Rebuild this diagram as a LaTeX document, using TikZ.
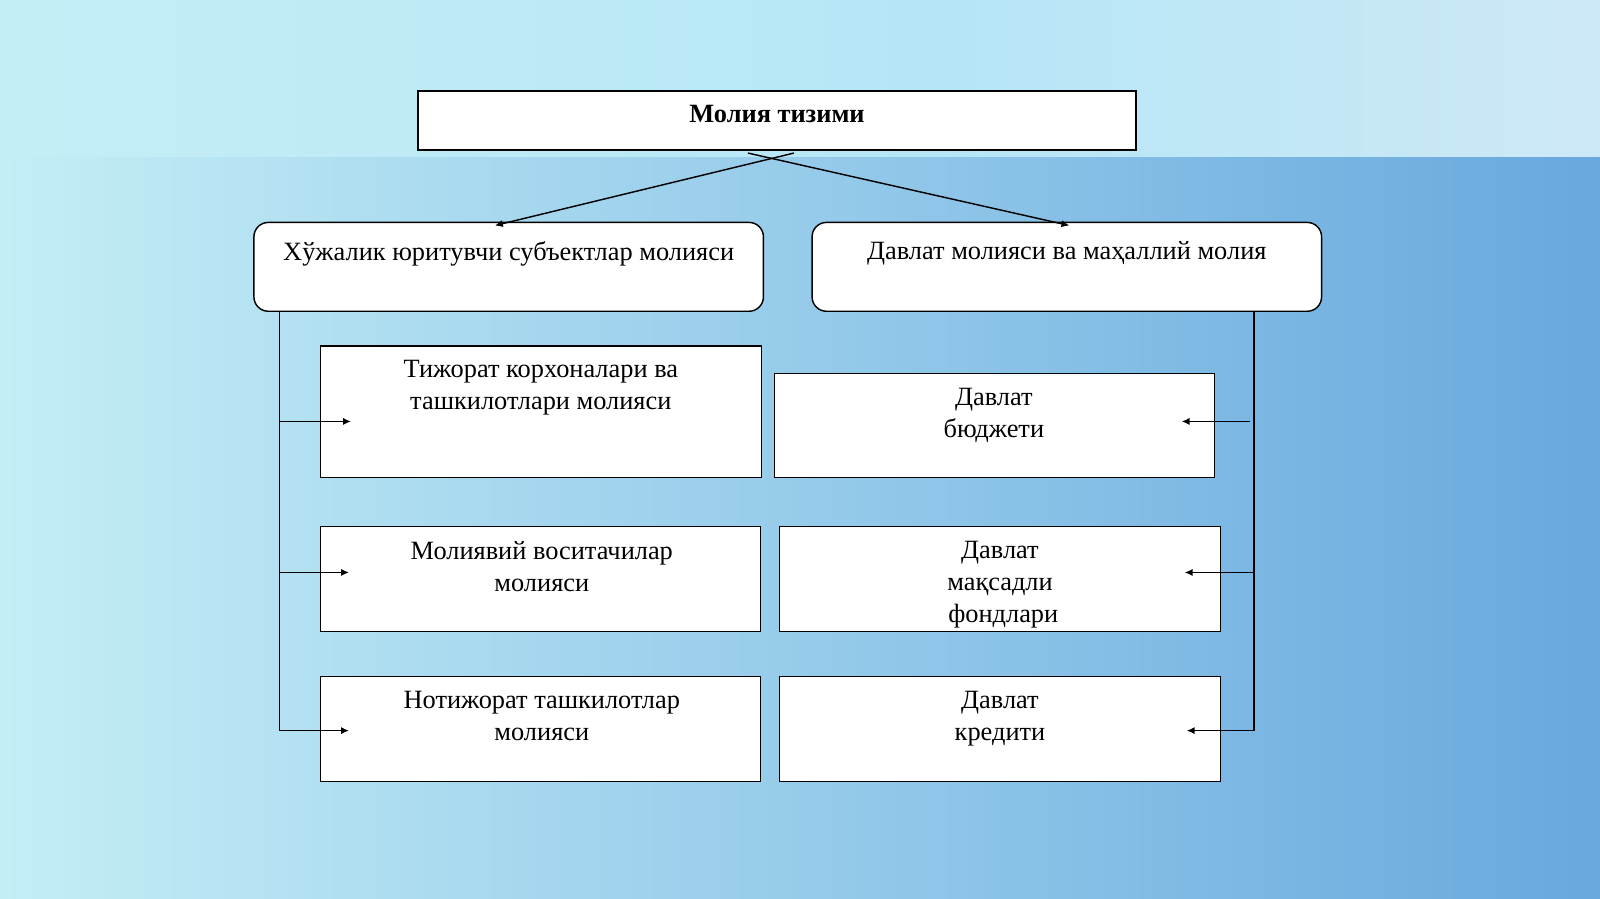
\documentclass[tikz,border=0pt]{standalone}
\usepackage{fontspec}
\setmainfont{Liberation Serif}
\usetikzlibrary{positioning,arrows.meta}
\definecolor{bgleft}{RGB}{196,238,246}
\definecolor{bgmid}{RGB}{178,228,246}
\definecolor{bgright}{RGB}{104,168,222}
\definecolor{bgtop}{RGB}{205,232,246}
\tikzset{
  box/.style={draw=black,fill=white,line width=0.4pt,inner sep=0pt},
  rbox/.style={box,rounded corners=4pt},
  txt/.style={anchor=north,align=center,font=\fontsize{7.35}{8.9}\selectfont,inner sep=0pt},
  link/.style={line width=0.4pt,-{Latex[length=2.2pt,width=2pt]}},
  trunk/.style={line width=0.4pt}
}
\begin{document}
\begin{tikzpicture}[x=0.01cm,y=-0.01cm]
\useasboundingbox (0,0) rectangle (1568,881);
\shade[left color=bgleft,middle color=bgmid,right color=bgright] (0,0) rectangle (1568,881);
\shade[left color=bgmid!80!bgleft,right color=bgtop] (930,0) rectangle (1568,153);
\shade[left color=bgleft,right color=bgmid!80!bgleft] (0,0) rectangle (930,153);

% top
\node[box,minimum width=7.03cm,minimum height=0.58cm] (sys) at (761.5,118) {};
\node[txt,font=\fontsize{7.35}{8.9}\selectfont\bfseries] at (761.5,102) {Молия тизими};

% second level
\node[rbox,minimum width=4.99cm,minimum height=0.87cm] (biz) at (498.5,261.5) {};
\node[txt] at (498.5,236) {Хўжалик юритувчи субъектлар молияси};
\node[rbox,minimum width=4.99cm,minimum height=0.87cm] (gov) at (1045.5,261.5) {};
\node[txt] at (1045.5,236) {Давлат молияси ва маҳаллий молия};

% left column
\node[box,minimum width=4.32cm,minimum height=1.29cm] (com) at (530,403.5) {};
\node[txt] at (530,352) {Тижорат корхоналари ва\\ташкилотлари молияси};
\node[box,minimum width=4.31cm,minimum height=1.03cm] (mid) at (529.5,567.5) {};
\node[txt] at (531,530) {Молиявий воситачилар\\молияси};
\node[box,minimum width=4.31cm,minimum height=1.03cm] (npo) at (529.5,714.5) {};
\node[txt] at (531,677) {Нотижорат ташкилотлар\\молияси};

% right column
\node[box,minimum width=4.31cm,minimum height=1.02cm] (bud) at (974.5,417) {};
\node[txt] at (974,380) {Давлат\\бюджети};
\node[box,minimum width=4.32cm,minimum height=1.03cm] (fund) at (980,567.5) {};
\node[txt] at (980,530) {Давлат\\мақсадли\\\ фондлари};
\node[box,minimum width=4.32cm,minimum height=1.03cm] (cred) at (980,714.5) {};
\node[txt] at (980,677) {Давлат\\кредити};

% links from top
\coordinate (sa) at (778,150);
\coordinate (sb) at (733,150);
\draw[link] (sa) -- (485,221);
\draw[link] (sb) -- (1048,221);

% left trunk
\coordinate (lt) at (274,305);
\coordinate (lb) at (274,716);
\draw[trunk] (lt) -- (lb);
\draw[link] (274,413) -- (344,413);
\draw[link] (274,561) -- (342,561);
\draw[link] (lb) -- (342,716);

% right trunk
\coordinate (rt) at (1229,305);
\coordinate (rb) at (1229,716);
\draw[trunk] (rt) -- (rb);
\draw[link] (1225,413) -- (1158,413);
\draw[link] (1229,561) -- (1161,561);
\draw[link] (rb) -- (1163,716);
\end{tikzpicture}
\end{document}
